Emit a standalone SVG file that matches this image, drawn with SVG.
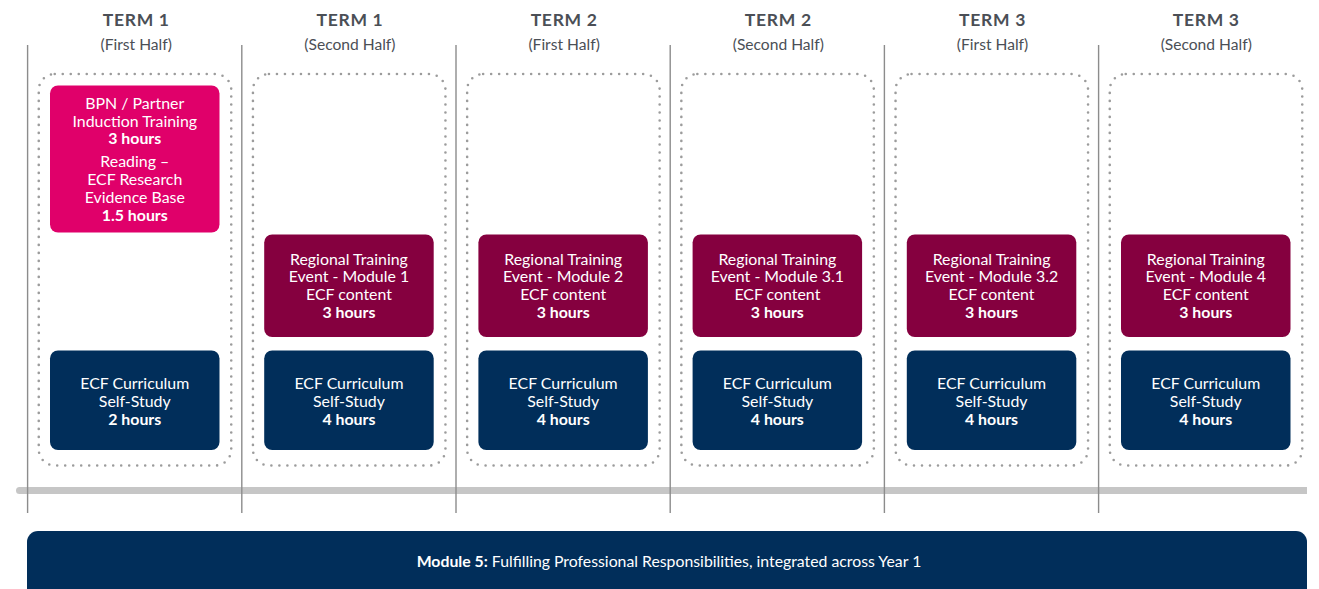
<svg xmlns="http://www.w3.org/2000/svg" width="1319" height="589" viewBox="0 0 1319 589">
<style>
.hdr{font-family:Lato,"Liberation Sans",sans-serif;font-weight:700;font-size:17.5px;fill:#4b4f56;text-anchor:middle;letter-spacing:0.7px}
.sub{font-family:Lato,"Liberation Sans",sans-serif;font-size:15.6px;fill:#4b4f56;text-anchor:middle}
.bt{font-family:Lato,"Liberation Sans",sans-serif;font-size:15.9px;fill:#ffffff;text-anchor:middle}
.b{font-weight:700}
.vl{stroke:#8c8c8c;stroke-width:1.4}
.dot{fill:none;stroke:#9c9c9c;stroke-width:2.6;stroke-linecap:round;stroke-dasharray:0 8}
.pink{fill:#e0006a}
.maroon{fill:#85003f}
.navy{fill:#012e5a}
</style>
<rect width="1319" height="589" fill="#ffffff"/>

<g id="timeline-bar">
<path d="M19.5 487 H1307 V494 H19.5 A3.5 3.5 0 0 1 19.5 487 Z" fill="#c6c6c6"/>
</g>

<g id="column-lines">
<line class="vl" x1="27.6" y1="45" x2="27.6" y2="513"/>
<line class="vl" x1="241.8" y1="45" x2="241.8" y2="513"/>
<line class="vl" x1="456" y1="45" x2="456" y2="513"/>
<line class="vl" x1="670.2" y1="45" x2="670.2" y2="513"/>
<line class="vl" x1="884.4" y1="45" x2="884.4" y2="513"/>
<line class="vl" x1="1098.6" y1="45" x2="1098.6" y2="513"/>
</g>

<g id="connectors"></g>

<!-- Column 1 -->
<g id="col1" transform="translate(134.75,0)">
<text class="hdr" x="1.5" y="26">TERM 1</text>
<text class="sub" x="1.5" y="49.5">(First Half)</text>
<rect class="dot" x="-96" y="74" width="192.5" height="391.5" rx="16"/>
<g id="bpn-induction">
<rect class="pink" x="-84.75" y="85.5" width="169.5" height="147" rx="8"/>
<text class="bt" y="108.8">BPN / Partner</text>
<text class="bt" y="126.6">Induction Training</text>
<text class="bt b" y="144.4">3 hours</text>
<text class="bt" y="167.4">Reading –</text>
<text class="bt" y="185.2">ECF Research</text>
<text class="bt" y="203">Evidence Base</text>
<text class="bt b" y="220.8">1.5 hours</text>
</g>
<g id="self-study-1">
<rect class="navy" x="-84.75" y="350.5" width="169.5" height="99.5" rx="8"/>
<text class="bt" y="389">ECF Curriculum</text>
<text class="bt" y="406.8">Self-Study</text>
<text class="bt b" y="424.6">2 hours</text>
</g>
</g>

<!-- Column 2 -->
<g id="col2" transform="translate(348.95,0)">
<text class="hdr" x="1" y="26">TERM 1</text>
<text class="sub" x="1" y="49.5">(Second Half)</text>
<rect class="dot" x="-96" y="74" width="192.5" height="391.5" rx="16"/>
<g id="rte-module-1">
<rect class="maroon" x="-84.75" y="234.5" width="169.5" height="102.5" rx="8"/>
<text class="bt" y="264.5">Regional Training</text>
<text class="bt" y="282.3">Event - Module 1</text>
<text class="bt" y="300.1">ECF content</text>
<text class="bt b" y="317.9">3 hours</text>
</g>
<g id="self-study-2">
<rect class="navy" x="-84.75" y="350.5" width="169.5" height="99.5" rx="8"/>
<text class="bt" y="389">ECF Curriculum</text>
<text class="bt" y="406.8">Self-Study</text>
<text class="bt b" y="424.6">4 hours</text>
</g>
</g>

<!-- Column 3 -->
<g id="col3" transform="translate(563.15,0)">
<text class="hdr" x="1" y="26">TERM 2</text>
<text class="sub" x="1" y="49.5">(First Half)</text>
<rect class="dot" x="-96" y="74" width="192.5" height="391.5" rx="16"/>
<g id="rte-module-2">
<rect class="maroon" x="-84.75" y="234.5" width="169.5" height="102.5" rx="8"/>
<text class="bt" y="264.5">Regional Training</text>
<text class="bt" y="282.3">Event - Module 2</text>
<text class="bt" y="300.1">ECF content</text>
<text class="bt b" y="317.9">3 hours</text>
</g>
<g id="self-study-3">
<rect class="navy" x="-84.75" y="350.5" width="169.5" height="99.5" rx="8"/>
<text class="bt" y="389">ECF Curriculum</text>
<text class="bt" y="406.8">Self-Study</text>
<text class="bt b" y="424.6">4 hours</text>
</g>
</g>

<!-- Column 4 -->
<g id="col4" transform="translate(777.35,0)">
<text class="hdr" x="1" y="26">TERM 2</text>
<text class="sub" x="1" y="49.5">(Second Half)</text>
<rect class="dot" x="-96" y="74" width="192.5" height="391.5" rx="16"/>
<g id="rte-module-3-1">
<rect class="maroon" x="-84.75" y="234.5" width="169.5" height="102.5" rx="8"/>
<text class="bt" y="264.5">Regional Training</text>
<text class="bt" y="282.3">Event - Module 3.1</text>
<text class="bt" y="300.1">ECF content</text>
<text class="bt b" y="317.9">3 hours</text>
</g>
<g id="self-study-4">
<rect class="navy" x="-84.75" y="350.5" width="169.5" height="99.5" rx="8"/>
<text class="bt" y="389">ECF Curriculum</text>
<text class="bt" y="406.8">Self-Study</text>
<text class="bt b" y="424.6">4 hours</text>
</g>
</g>

<!-- Column 5 -->
<g id="col5" transform="translate(991.55,0)">
<text class="hdr" x="1" y="26">TERM 3</text>
<text class="sub" x="1" y="49.5">(First Half)</text>
<rect class="dot" x="-96" y="74" width="192.5" height="391.5" rx="16"/>
<g id="rte-module-3-2">
<rect class="maroon" x="-84.75" y="234.5" width="169.5" height="102.5" rx="8"/>
<text class="bt" y="264.5">Regional Training</text>
<text class="bt" y="282.3">Event - Module 3.2</text>
<text class="bt" y="300.1">ECF content</text>
<text class="bt b" y="317.9">3 hours</text>
</g>
<g id="self-study-5">
<rect class="navy" x="-84.75" y="350.5" width="169.5" height="99.5" rx="8"/>
<text class="bt" y="389">ECF Curriculum</text>
<text class="bt" y="406.8">Self-Study</text>
<text class="bt b" y="424.6">4 hours</text>
</g>
</g>

<!-- Column 6 -->
<g id="col6" transform="translate(1205.75,0)">
<text class="hdr" x="0.5" y="26">TERM 3</text>
<text class="sub" x="0.5" y="49.5">(Second Half)</text>
<rect class="dot" x="-96" y="74" width="192.5" height="391.5" rx="16"/>
<g id="rte-module-4">
<rect class="maroon" x="-84.75" y="234.5" width="169.5" height="102.5" rx="8"/>
<text class="bt" y="264.5">Regional Training</text>
<text class="bt" y="282.3">Event - Module 4</text>
<text class="bt" y="300.1">ECF content</text>
<text class="bt b" y="317.9">3 hours</text>
</g>
<g id="self-study-6">
<rect class="navy" x="-84.75" y="350.5" width="169.5" height="99.5" rx="8"/>
<text class="bt" y="389">ECF Curriculum</text>
<text class="bt" y="406.8">Self-Study</text>
<text class="bt b" y="424.6">4 hours</text>
</g>
</g>

<g id="module-5">
<rect class="navy" x="27" y="531" width="1280" height="80" rx="11"/>
<text class="bt" x="669" y="567" style="font-size:15.8px"><tspan class="b">Module 5:</tspan> Fulfilling Professional Responsibilities, integrated across Year 1</text>
</g>
</svg>
